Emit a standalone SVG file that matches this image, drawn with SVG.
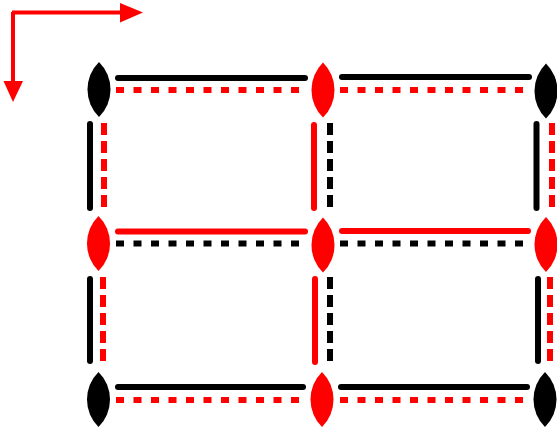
<svg xmlns="http://www.w3.org/2000/svg" width="557" height="430" viewBox="0 0 557 430">
<style>
.bg{fill:#fff}
.nb{fill:#000}
.nr{fill:#ff0000}
.sk{stroke:#000;stroke-width:6;stroke-linecap:round;fill:none}
.sr{stroke:#ff0000;stroke-width:6;stroke-linecap:round;fill:none}
.dhk{stroke:#000;stroke-width:6;stroke-dasharray:8 9.5;fill:none}
.dhr{stroke:#ff0000;stroke-width:6;stroke-dasharray:8 9.5;fill:none}
.dvk{stroke:#000;stroke-width:6;stroke-dasharray:12 6;fill:none}
.dvr{stroke:#ff0000;stroke-width:6;stroke-dasharray:12 6;fill:none}
.ax{stroke:#ff0000;stroke-width:4;fill:none}
</style>
<defs>
<path id="lens" d="M0,-27.5 A38.6,38.6 0 0 1 0,27.5 A38.6,38.6 0 0 1 0,-27.5 Z"/>
</defs>
<rect class="bg" x="0" y="0" width="557" height="430"/>
<g id="axes">
<path class="ax" d="M13,12 L13,82 M12,12.5 L121,12.5"/>
<polygon points="3.5,81 23,81 13,102" fill="#ff0000"/>
<polygon points="120,3 120,22.5 143,12.5" fill="#ff0000"/>
</g>
<g id="connectors">
<line class="sk" x1="118" y1="78" x2="305" y2="78"/>
<line class="dhr" x1="116" y1="90" x2="306" y2="90"/>
<line class="sk" x1="342" y1="77" x2="529" y2="77"/>
<line class="dhr" x1="340" y1="90" x2="530" y2="90"/>
<line class="sr" x1="118" y1="231.5" x2="305" y2="231.5"/>
<line class="dhk" x1="116" y1="243.5" x2="306" y2="243.5"/>
<line class="sr" x1="342" y1="231" x2="528" y2="231"/>
<line class="dhk" x1="340" y1="243.5" x2="530" y2="243.5"/>
<line class="sk" x1="118" y1="387" x2="303" y2="387"/>
<line class="dhr" x1="116" y1="400" x2="306" y2="400"/>
<line class="sk" x1="341" y1="387" x2="527" y2="387"/>
<line class="dhr" x1="340" y1="400" x2="530" y2="400"/>
<line class="sk" x1="90" y1="124" x2="90" y2="208"/>
<line class="dvr" x1="104" y1="123" x2="104" y2="211"/>
<line class="sr" x1="314" y1="125" x2="314" y2="208"/>
<line class="dvk" x1="330" y1="123" x2="330" y2="211"/>
<line class="sk" x1="536.5" y1="124" x2="536.5" y2="208"/>
<line class="dvr" x1="552" y1="123" x2="552" y2="211"/>
<line class="sk" x1="90" y1="279" x2="90" y2="361"/>
<line class="dvr" x1="103" y1="277" x2="103" y2="365"/>
<line class="sr" x1="315" y1="279" x2="315" y2="362"/>
<line class="dvk" x1="330" y1="277" x2="330" y2="365"/>
<line class="sk" x1="538" y1="279" x2="538" y2="361"/>
<line class="dvr" x1="550" y1="277" x2="550" y2="365"/>
</g>
<g id="n11"><use href="#lens" class="nb" x="99" y="89.5"/></g>
<g id="n12"><use href="#lens" class="nr" x="323" y="90"/></g>
<g id="n13"><use href="#lens" class="nb" x="546" y="91"/></g>
<g id="n21"><use href="#lens" class="nr" x="98.5" y="243.5"/></g>
<g id="n22"><use href="#lens" class="nr" x="323" y="245"/></g>
<g id="n23"><use href="#lens" class="nr" x="546" y="244.5"/></g>
<g id="n31"><use href="#lens" class="nb" x="98.5" y="399.5"/></g>
<g id="n32"><use href="#lens" class="nr" x="322" y="399.5"/></g>
<g id="n33"><use href="#lens" class="nb" x="545" y="399.5"/></g>
</svg>
